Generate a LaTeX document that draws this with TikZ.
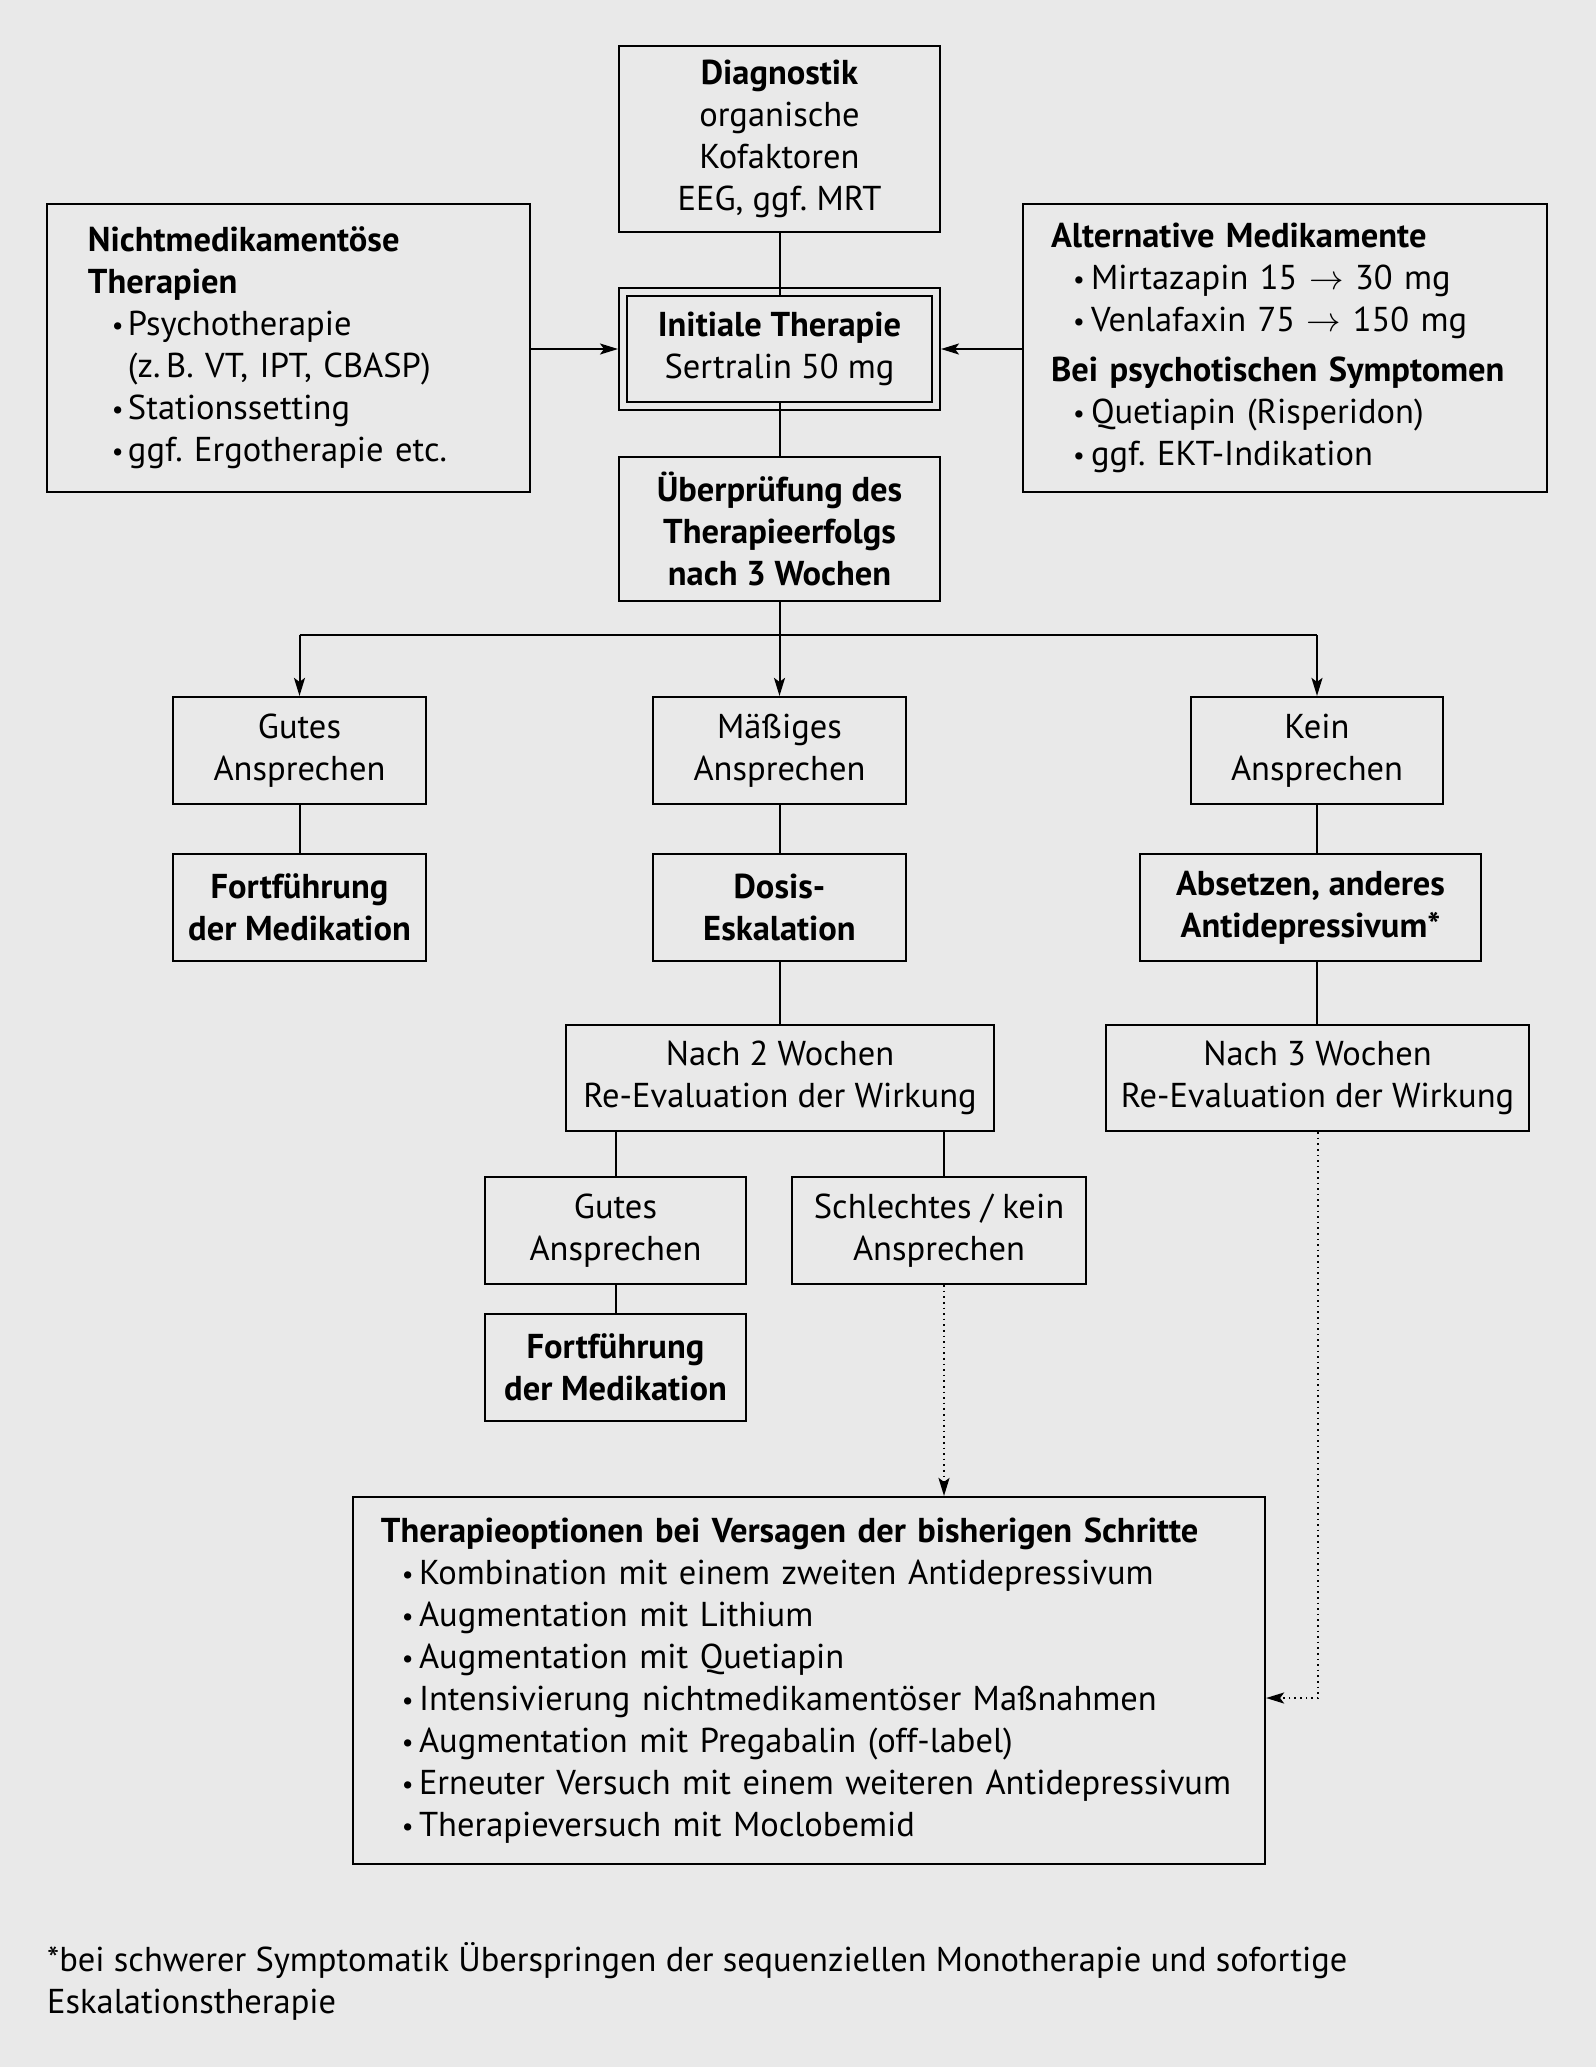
\RequirePackage{fix-cm}
\documentclass[tikz,border=0pt]{standalone}
\usepackage{fontspec}
\setmainfont{PT Sans}
\usetikzlibrary{arrows.meta}
\definecolor{bg}{HTML}{E9E9E9}
\newcommand\myfs{\fontsize{34.5bp}{42bp}\selectfont\frenchspacing}
\newcommand\bul[2]{\hspace*{#1}\makebox[#2][l]{\fontsize{26bp}{26bp}\selectfont\raisebox{1bp}{\textbullet}}}
\begin{document}
\begin{tikzpicture}[x=1bp,y=-1bp,
  box/.style={draw, line width=2.2bp, inner sep=0pt, align=center, font=\myfs},
  lbox/.style={box, align=left},
  line/.style={line width=2bp},
  arr/.style={line width=2bp, -{Stealth[length=18bp,width=11bp,inset=4bp]}},
  dotarr/.style={line width=2bp, dash pattern=on 1.6bp off 4bp, -{Stealth[length=18bp,width=11bp,inset=4bp]}}]
\fill[bg] (0,0) rectangle (1596,2067);
\useasboundingbox (0,0) rectangle (1596,2067);

\node[box, minimum width=321bp, minimum height=186bp] (diag) at (779.5,139)
  {\textbf{Diagnostik}\\organische\\Kofaktoren\\EEG, ggf. MRT};
\node[box, double=bg, double distance=6bp, line width=2bp, minimum width=313bp, minimum height=114bp] (init) at (779.5,349)
  {\textbf{Initiale Therapie}\\Sertralin 50 mg};
\node[box, minimum width=321bp, minimum height=144bp] (check) at (779.5,529)
  {\textbf{Überprüfung des}\\\textbf{Therapieerfolgs}\\\textbf{nach 3 Wochen}};

\node[lbox, minimum height=288bp, text width=401bp, inner xsep=41bp] (nonmed) at (288.5,348)
  {\textbf{Nichtmedikamentöse}\\\textbf{Therapien}\\
   \bul{24bp}{16bp}Psychotherapie\\
   \hspace*{40bp}(z.\,B. VT, IPT, CBASP)\\
   \bul{24bp}{16bp}Stationssetting\\
   \bul{24bp}{16bp}ggf. Ergotherapie etc.};
\node[lbox, minimum height=288bp, text width=468bp, inner xsep=28bp] (alt) at (1285,348)
  {\textbf{Alternative Medikamente}\\
   \bul{22bp}{18bp}Mirtazapin 15 $\rightarrow$ 30 mg\\
   \bul{22bp}{18bp}Venlafaxin 75 $\rightarrow$ 150 mg\\[8bp]
   \textbf{Bei psychotischen Symptomen}\\
   \bul{22bp}{18bp}Quetiapin (Risperidon)\\
   \bul{22bp}{18bp}ggf. EKT-Indikation};

\node[box, minimum width=253bp, minimum height=107bp] (good) at (299.5,750.5) {Gutes\\Ansprechen};
\node[box, minimum width=253bp, minimum height=107bp] (mod) at (779.5,750.5) {Mäßiges\\Ansprechen};
\node[box, minimum width=252bp, minimum height=107bp] (kein) at (1317,750.5) {Kein\\Ansprechen};

\node[box, minimum width=253bp, minimum height=107bp] (fort) at (299.5,907.5) {\textbf{Fortführung}\\\textbf{der Medikation}};
\node[box, minimum width=253bp, minimum height=107bp] (dosis) at (779.5,907.5) {\textbf{Dosis-}\\\textbf{Eskalation}};
\node[box, minimum width=341bp, minimum height=107bp] (abs) at (1310.5,907.5) {\textbf{Absetzen, anderes}\\\textbf{Antidepressivum*}};

\node[box, minimum width=428bp, minimum height=106bp] (nach2) at (780,1078) {Nach 2 Wochen\\Re-Evaluation der Wirkung};
\node[box, minimum width=423bp, minimum height=106bp] (nach3) at (1317.5,1078) {Nach 3 Wochen\\Re-Evaluation der Wirkung};

\node[box, minimum width=261bp, minimum height=107bp] (good2) at (615.5,1230.5) {Gutes\\Ansprechen};
\node[box, minimum width=294bp, minimum height=107bp] (schl) at (939,1230.5) {Schlechtes / kein\\Ansprechen};
\node[box, minimum width=261bp, minimum height=107bp] (fort2) at (615.5,1367.5) {\textbf{Fortführung}\\\textbf{der Medikation}};

\node[lbox, minimum height=367bp, text width=856bp, inner xsep=28bp] (opt) at (809,1680.5)
  {\textbf{Therapieoptionen bei Versagen der bisherigen Schritte}\\
   \bul{21bp}{17bp}Kombination mit einem zweiten Antidepressivum\\
   \bul{21bp}{17bp}Augmentation mit Lithium\\
   \bul{21bp}{17bp}Augmentation mit Quetiapin\\
   \bul{21bp}{17bp}Intensivierung nichtmedikamentöser Maßnahmen\\
   \bul{21bp}{17bp}Augmentation mit Pregabalin (off-label)\\
   \bul{21bp}{17bp}Erneuter Versuch mit einem weiteren Antidepressivum\\
   \bul{21bp}{17bp}Therapieversuch mit Moclobemid};

\node[anchor=west, inner sep=0pt, align=left, font=\myfs] (foot) at (47,1981)
  {*bei schwerer Symptomatik Überspringen der sequenziellen Monotherapie und sofortige\\Eskalationstherapie};

% connectors
\draw[line] (diag.south) -- ([yshift=-4bp]init.north);
\draw[line] ([yshift=4bp]init.south) -- (check.north);
\draw[arr] (nonmed.east |- init.west) -- ([xshift=-4bp]init.west);
\draw[arr] (alt.west |- init.east) -- ([xshift=4bp]init.east);

\coordinate (split) at (779.5,635);
\draw[line] (good.north |- split) -- (kein.north |- split);
\draw[arr] (check.south) -- (mod.north);
\draw[arr] (good.north |- split) -- (good.north);
\draw[arr] (kein.north |- split) -- (kein.north);

\draw[line] (good.south) -- (fort.north);
\draw[line] (mod.south) -- (dosis.north);
\draw[line] (kein.south) -- (kein.south |- abs.north);
\draw[line] (dosis.south) -- (dosis.south |- nach2.north);
\draw[line] (kein.south |- abs.south) -- (kein.south |- nach3.north);

\coordinate (sx) at (944,0);
\draw[line] (good2.north |- nach2.south) -- (good2.north);
\draw[line] (nach2.south -| sx) -- (schl.north -| sx);
\draw[line] (good2.south) -- (fort2.north);

\draw[dotarr] (schl.south -| sx) -- (opt.north -| sx);
\coordinate (cx) at (1318,1698);
\draw[dotarr] (nach3.south -| cx) -- (cx) -- (opt.east |- cx);
\end{tikzpicture}
\end{document}
